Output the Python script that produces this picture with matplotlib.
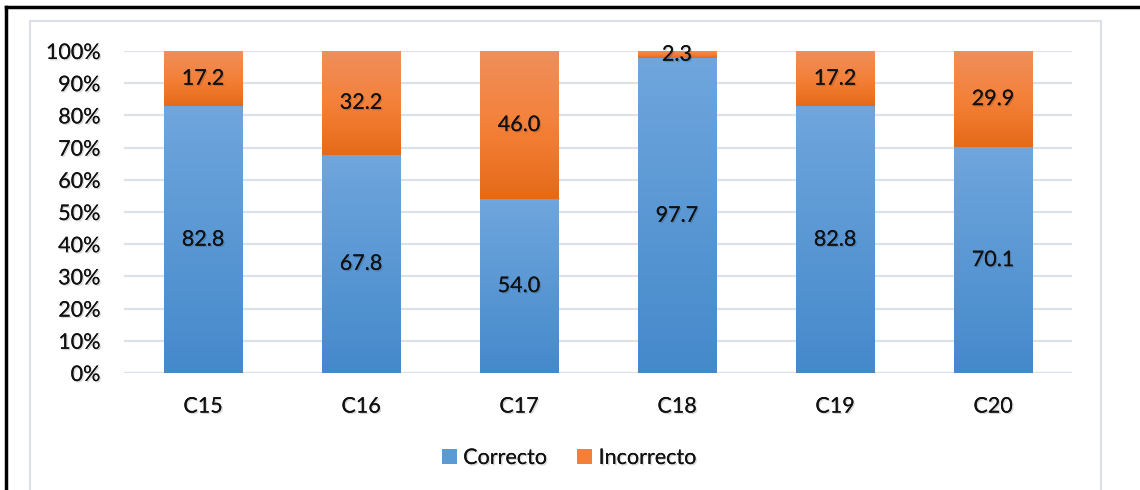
import matplotlib
matplotlib.use("Agg")
import matplotlib.pyplot as plt
import matplotlib.patheffects as pe
from matplotlib.colors import LinearSegmentedColormap
from matplotlib.patches import Rectangle
from matplotlib.lines import Line2D
import numpy as np

categories = ["C15", "C16", "C17", "C18", "C19", "C20"]
correcto = [82.8, 67.8, 54.0, 97.7, 82.8, 70.1]
incorrecto = [17.2, 32.2, 46.0, 2.3, 17.2, 29.9]
yticks = [0, 10, 20, 30, 40, 50, 60, 70, 80, 90, 100]
series_names = ["Correcto", "Incorrecto"]

plt.rcParams['font.family'] = ['Lato', 'DejaVu Sans']

W, H = 1140, 490
fig = plt.figure(figsize=(W / 100, H / 100), dpi=100)
ax = fig.add_axes([124 / W, 1 - 373 / H, (1072 - 124) / W, (373 - 51) / H])

blue_cmap = LinearSegmentedColormap.from_list("b", ["#4589CB", "#6FA6DD"])
orange_cmap = LinearSegmentedColormap.from_list("o", ["#E56A17", "#F4813A", "#EF8F5C"])

shadow = [pe.withSimplePatchShadow(offset=(1, -1), shadow_rgbFace="#000000", alpha=0.15), pe.Normal()]

x = np.arange(len(categories))
width = 0.494
grad = np.linspace(0, 1, 256).reshape(-1, 1)
FS = 15.5

def gradient_bar(xc, y0, h, cmap):
    rect = Rectangle((xc - width / 2, y0), width, h, facecolor="none", edgecolor="none")
    ax.add_patch(rect)
    im = ax.imshow(grad, cmap=cmap, origin="lower", aspect="auto",
                   extent=(xc - width / 2, xc + width / 2, y0, y0 + h), zorder=2)
    im.set_clip_path(rect)

ax.set_xlim(-0.5, len(categories) - 0.5)
ax.set_ylim(0, 100)

for xi, c, inc in zip(x, correcto, incorrecto):
    gradient_bar(xi, 0, c, blue_cmap)
    gradient_bar(xi, c, inc, orange_cmap)
    ax.text(xi, c / 2, f"{c:.1f}", ha="center", va="center", fontsize=FS,
            color="#111111", zorder=4, path_effects=shadow)
    ax.text(xi, c + inc / 2, f"{inc:.1f}", ha="center", va="center", fontsize=FS,
            color="#111111", zorder=4, path_effects=shadow)

ax.set_ylim(0, 100)
ax.set_xlim(-0.5, len(categories) - 0.5)
ax.set_yticks(yticks)
ax.set_yticklabels([f"{v}%" for v in yticks], fontsize=FS, color="#111111")
ax.set_xticks(x)
ax.set_xticklabels(categories, fontsize=FS, color="#111111")
for lbl in ax.get_xticklabels() + ax.get_yticklabels():
    lbl.set_path_effects(shadow)
ax.tick_params(axis="both", length=0)
ax.tick_params(axis="y", pad=17)
ax.tick_params(axis="x", pad=17)
ax.yaxis.grid(True, color="#DDE1E8", linewidth=1.6, zorder=0)
ax.set_axisbelow(True)
for s in ax.spines.values():
    s.set_visible(False)
ax.axhline(0, color="#DDE1E8", linewidth=1.6, zorder=1)

# Legend
handles = [Rectangle((0, 0), 1, 1, facecolor="#5B9BD5", edgecolor="none"),
           Rectangle((0, 0), 1, 1, facecolor="#F2803A", edgecolor="none")]
leg = fig.legend(handles, series_names, loc="center", bbox_to_anchor=(569 / W, 1 - 458 / H),
                 ncol=2, frameon=False, fontsize=FS, handlelength=0.7, handleheight=0.7,
                 handletextpad=0.3, columnspacing=1.4)
for t in leg.get_texts():
    t.set_path_effects(shadow)
    t.set_color("#111111")

# Chart frames
fig.add_artist(Line2D([6 / W, 1.0], [1 - 7 / H, 1 - 7 / H], color="black", linewidth=2.5,
                      transform=fig.transFigure))
fig.add_artist(Line2D([6 / W, 6 / W], [0, 1 - 7 / H], color="black", linewidth=2.5,
                      transform=fig.transFigure))
fig.add_artist(Rectangle((30 / W, -0.05), (1101 - 30) / W, 1 - 21 / H + 0.05, fill=False,
                         edgecolor="#DCE0E6", linewidth=1.5, transform=fig.transFigure))

fig.savefig("out.png", dpi=100)
